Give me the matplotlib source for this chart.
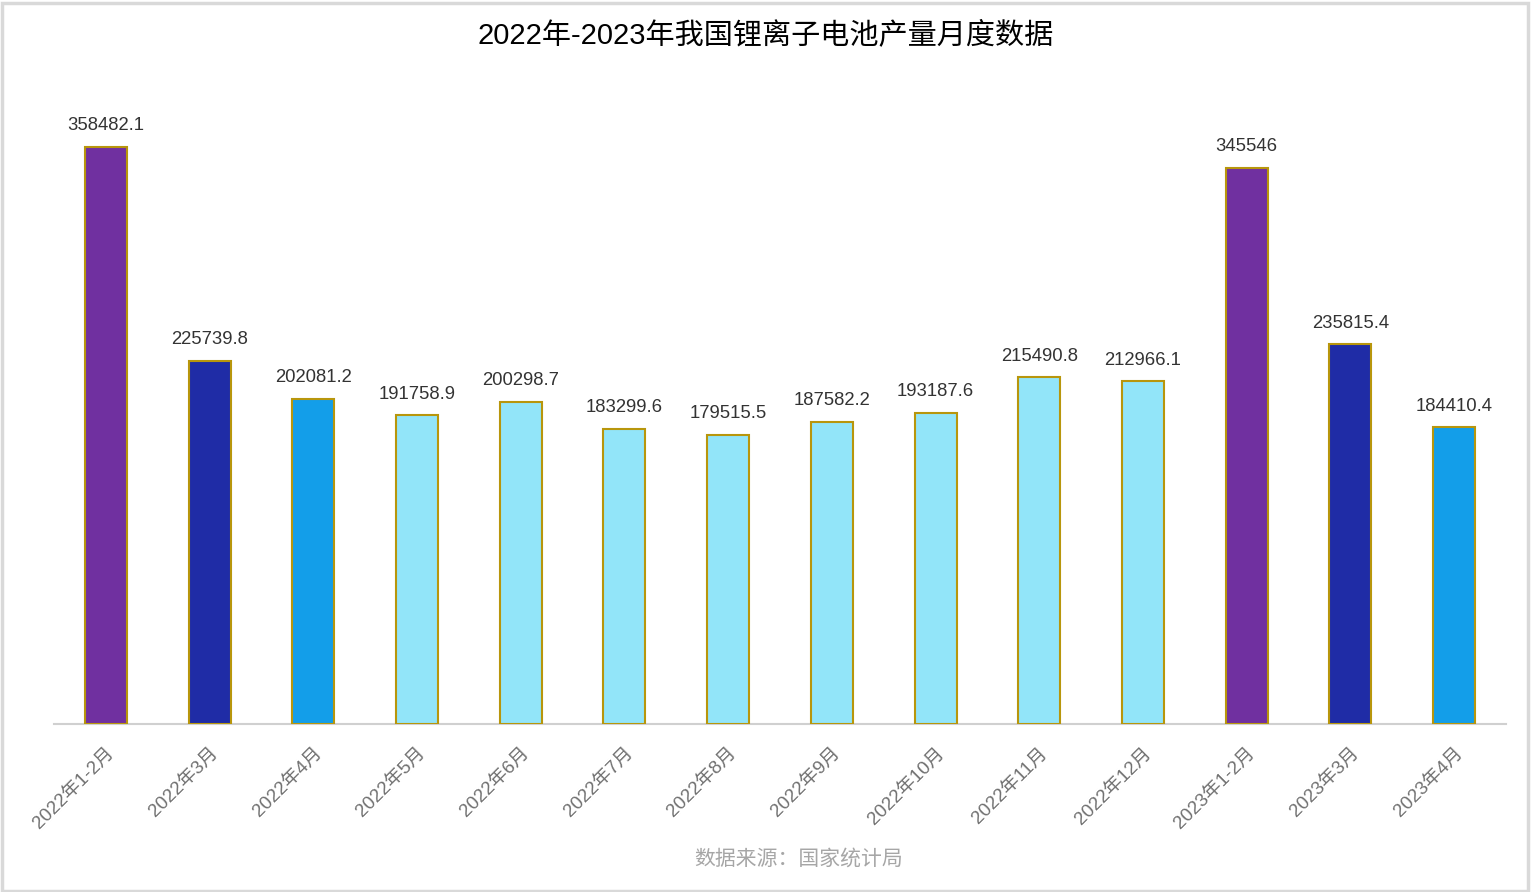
import matplotlib
matplotlib.use('Agg')
import matplotlib.pyplot as plt
from matplotlib.patches import Rectangle

# 数字用Arial类字体，中文回退到思源黑体
plt.rcParams['font.family'] = ['Liberation Sans', 'Noto Sans CJK SC', 'DejaVu Sans']

# 数据
categories = ['2022年1-2月', '2022年3月', '2022年4月', '2022年5月', '2022年6月',
              '2022年7月', '2022年8月', '2022年9月', '2022年10月', '2022年11月',
              '2022年12月', '2023年1-2月', '2023年3月', '2023年4月']
values = [358482.1, 225739.8, 202081.2, 191758.9, 200298.7,
          183299.6, 179515.5, 187582.2, 193187.6, 215490.8,
          212966.1, 345546, 235815.4, 184410.4]
value_labels = ['358482.1', '225739.8', '202081.2', '191758.9', '200298.7',
                '183299.6', '179515.5', '187582.2', '193187.6', '215490.8',
                '212966.1', '345546', '235815.4', '184410.4']
bar_colors = ['#7030A0', '#1F2CA6', '#139EE9'] + ['#92E5F9'] * 8 + ['#7030A0', '#1F2CA6', '#139EE9']

W, H = 1531, 892
fig = plt.figure(figsize=(W / 100, H / 100), dpi=100)
fig.patches.append(Rectangle((0.001, 0.001), 0.997, 0.996, transform=fig.transFigure,
                             fill=False, edgecolor='#D9D9D9', linewidth=2.5))

ax = fig.add_axes([54 / W, 1 - 724 / H, 1452 / W, (724 - 80) / H])
x = list(range(len(categories)))
ax.bar(x, values, width=0.405, color=bar_colors, edgecolor='#B8960C', linewidth=1.5, zorder=3)

for xi, v, lab in zip(x, values, value_labels):
    ax.annotate(lab, (xi, v), xytext=(0, 9), textcoords='offset points',
                ha='center', va='bottom', fontsize=13.3, color='#333333')

ax.set_xlim(-0.5, len(categories) - 0.5)
ax.set_ylim(0, 400000)
ax.set_yticks([])
ax.set_xticks(x)
ax.set_xticklabels(categories, rotation=45, ha='right', rotation_mode='anchor',
                   fontsize=13.5, color='#707070')
ax.tick_params(axis='x', length=0, pad=15)
for side in ['top', 'right', 'left']:
    ax.spines[side].set_visible(False)
ax.spines['bottom'].set_color('#D0D0D0')
ax.spines['bottom'].set_linewidth(1.5)

fig.text(0.5, 1 - 35 / H, '2022年-2023年我国锂离子电池产量月度数据', ha='center', va='center',
         fontsize=21, color='#000000')
fig.text(799 / W, 1 - 859 / H, '数据来源：国家统计局', ha='center', va='center',
         fontsize=15, color='#A6A6A6')

fig.savefig('out.png', dpi=100)
